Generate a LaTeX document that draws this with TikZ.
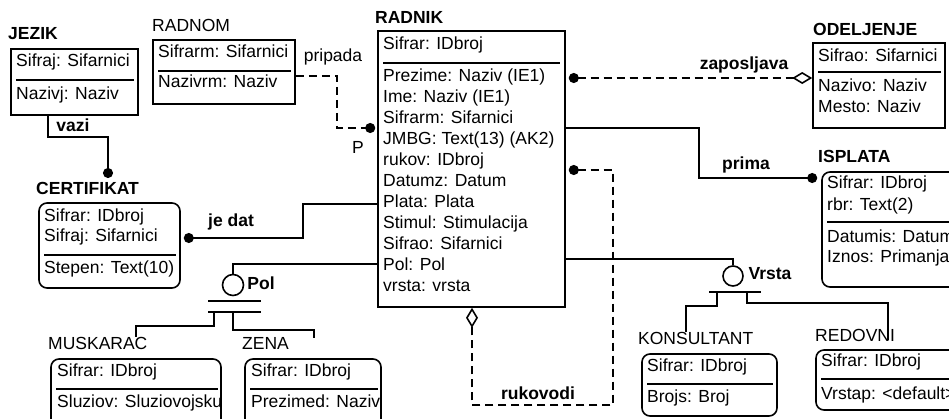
\documentclass[tikz,border=0pt]{standalone}
\usepackage{fontspec}
\setmainfont{Liberation Sans}
\usetikzlibrary{arrows.meta}

\newcommand{\entfont}{\fontsize{17.5}{21}\selectfont}

\begin{document}
\begin{tikzpicture}[
      x=1pt, y=-1pt,
      entity/.style={draw, line width=1.6pt, inner sep=0pt},
      rentity/.style={entity, rounded corners=8pt},
      attr/.style={anchor=west, inner sep=0pt, text height=12.5pt, text depth=3.5pt, font=\entfont},
      enttitle/.style={attr, font=\entfont\bfseries},
      subtitle/.style={attr},
      rel/.style={inner sep=0pt, font=\entfont\bfseries},
      lbl/.style={inner sep=0pt, font=\entfont},
      sepline/.style={line width=1.6pt},
      link/.style={line width=1.6pt},
      dlink/.style={line width=2.2pt, dash pattern=on 8pt off 5pt},
      cat/.style={circle, draw, line width=1.6pt, minimum size=21pt, inner sep=0pt},
      dot/.style={-{Circle[length=10pt]}},
      dotdia/.style={{Circle[length=10pt]}-{Diamond[open, length=20pt, width=12pt, line width=1.6pt]}}
    ]
    \useasboundingbox (0,0) rectangle (949,418);
    \clip (0,0) rectangle (949,418);

    % entities
    \node[entity, minimum width=127pt, minimum height=66pt] (jezik) at (74.5,82) {};
    \node[entity, minimum width=142pt, minimum height=64pt] (radnom) at (224,72) {};
    \node[entity, minimum width=187pt, minimum height=276pt] (radnik) at (471.5,169) {};
    \node[entity, minimum width=132pt, minimum height=85pt] (odeljenje) at (879,85.5) {};
    \node[rentity, minimum width=138pt, minimum height=115pt] (isplata) at (891,229.5) {};
    \node[rentity, minimum width=141pt, minimum height=85pt] (certifikat) at (109.5,245.5) {};
    \node[rentity, minimum width=170pt, minimum height=71pt] (muskarac) at (136,394.5) {};
    \node[rentity, minimum width=136pt, minimum height=71pt] (zena) at (313,394.5) {};
    \node[rentity, minimum width=135pt, minimum height=62pt] (konsultant) at (709.5,385) {};
    \node[rentity, minimum width=144pt, minimum height=60pt] (redovni) at (888,380) {};

    % titles
    \node[enttitle] (jezik-t) at (8,35) {JEZIK};
    \node[subtitle] (radnom-t) at (152,27) {RADNOM};
    \node[enttitle] (radnik-t) at (375,19) {RADNIK};
    \node[enttitle] (odeljenje-t) at (813,31) {ODELJENJE};
    \node[enttitle] (isplata-t) at (818,158) {ISPLATA};
    \node[enttitle] (certifikat-t) at (36,190) {CERTIFIKAT};
    \node[subtitle] (muskarac-t) at (48,345) {MUSKARAC};
    \node[subtitle] (zena-t) at (242,345) {ZENA};
    \node[subtitle] (konsultant-t) at (638,340) {KONSULTANT};
    \node[subtitle] (redovni-t) at (815,337) {REDOVNI};

    % attributes
    \node[attr] (jezik-k) at (16,62) {Sifraj: Sifarnici};
    \node[attr] (jezik-a) at (16,95) {Nazivj: Naziv};
    \draw[sepline] (16,80) -- (134,80);

    \node[attr] (radnom-k) at (158,53) {Sifrarm: Sifarnici};
    \node[attr] (radnom-a) at (158,83) {Nazivrm: Naziv};
    \draw[sepline] (158,71) -- (291,71);

    \node[attr] (radnik-k) at (383,45) {Sifrar: IDbroj};
    \draw[sepline] (383,63) -- (560,63);
    \foreach \t [count=\i from 0] in {Prezime: Naziv (IE1), Ime: Naziv (IE1),
        Sifrarm: Sifarnici, JMBG: Text(13) (AK2), rukov: IDbroj, Datumz: Datum,
        Plata: Plata, Stimul: Stimulacija, Sifrao: Sifarnici, Pol: Pol, vrsta: vrsta}
      \node[attr] (radnik-a\i) at (383,77+21*\i) {\t};

    \node[attr] (odeljenje-k) at (818,57) {Sifrao: Sifarnici};
    \node[attr] (odeljenje-a1) at (818,87) {Nazivo: Naziv};
    \node[attr] (odeljenje-a2) at (818,108) {Mesto: Naziv};
    \draw[sepline] (818,72) -- (941,72);

    \node[attr] (isplata-k1) at (827,184) {Sifrar: IDbroj};
    \node[attr] (isplata-k2) at (827,206) {rbr: Text(2)};
    \node[attr] (isplata-a1) at (827,238) {Datumis: Datum};
    \node[attr] (isplata-a2) at (827,258) {Iznos: Primanja};
    \draw[sepline] (827,222) -- (960,222);

    \node[attr] (certifikat-k1) at (44,217) {Sifrar: IDbroj};
    \node[attr] (certifikat-k2) at (44,237) {Sifraj: Sifarnici};
    \node[attr] (certifikat-a) at (44,269) {Stepen: Text(10)};
    \draw[sepline] (44,255) -- (176,255);

    \node[attr] (muskarac-k) at (57,372) {Sifrar: IDbroj};
    \node[attr] (muskarac-a) at (57,403) {Sluziov: Sluziovojsku};
    \draw[sepline] (56,389) -- (218,389);

    \node[attr] (zena-k) at (251,372) {Sifrar: IDbroj};
    \node[attr] (zena-a) at (251,403) {Prezimed: Naziv};
    \draw[sepline] (250,389) -- (378,389);

    \node[attr] (konsultant-k) at (647,367) {Sifrar: IDbroj};
    \node[attr] (konsultant-a) at (647,398) {Brojs: Broj};
    \draw[sepline] (647,384) -- (773,384);

    \node[attr] (redovni-k) at (821,362) {Sifrar: IDbroj};
    \node[attr] (redovni-a) at (821,395) {Vrstap: <default>};
    \draw[sepline] (821,379) -- (960,379);

    % relationships
    \coordinate (certifikat-in) at (108,178);
    \draw[link, dot] (jezik.south -| 48,0) |- (108,137) -- (certifikat-in);
    \node[rel] (vazi) at (73,125) {vazi};

    \draw[dlink, dot, shorten >=2pt] (radnom.east |- 0,76) -| (337,128) -- (radnik.west |- 0,128);
    \node[lbl] (pripada) at (333,57) {pripada};
    \node[lbl] (p) at (358,147) {P};

    \draw[dlink, dotdia, shorten <=3pt] (radnik.east |- 0,78) -- (odeljenje.west |- 0,78);
    \node[rel] (zaposljava) at (744,65) {zaposljava};

    \draw[link, dot, shorten >=4pt] (radnik.east |- 0,128) -| (699,178) -- (isplata.west |- 0,178);
    \node[rel] (prima) at (746,165) {prima};

    \draw[link, dot, shorten >=3pt] (radnik.west |- 0,204) -| (303,238) -- (certifikat.east |- 0,238);
    \node[rel] (jedat) at (231,222) {je dat};

    \draw[dlink, dotdia, shorten <=3pt] (radnik.east |- 0,170) -| (613,405) -| (radnik.south -| 472,0);
    \node[rel] (rukovodi) at (538,393) {rukovodi};

    % categories
    \node[cat] (polcat) at (233,285) {};
    \node[rel] (pol) at (261,283) {Pol};
    \draw[link] (radnik.west |- 0,264) -| (polcat.north);
    \draw[link] (208,301) -- (261,301);
    \draw[link] (208,312) -- (261,312);
    \coordinate (zena-in) at (314,338);
    \draw[link] (214,312) |- (136,326) -- (muskarac-t.north -| 136,0);
    \draw[link] (233,312) |- (314,330) -- (zena-in);

    \node[cat, minimum size=20pt] (vrstacat) at (733,276) {};
    \node[rel] (vrsta) at (770,274) {Vrsta};
    \draw[link] (radnik.east |- 0,259) -| (vrstacat.north);
    \draw[link] (709,292) -- (761,292);
    \coordinate (redovni-in) at (888,340);
    \draw[link] (717,292) |- (686,306) -- (konsultant-t.north -| 686,0);
    \draw[link] (747,292) |- (888,303) -- (redovni-in);
  \end{tikzpicture}
\end{document}
